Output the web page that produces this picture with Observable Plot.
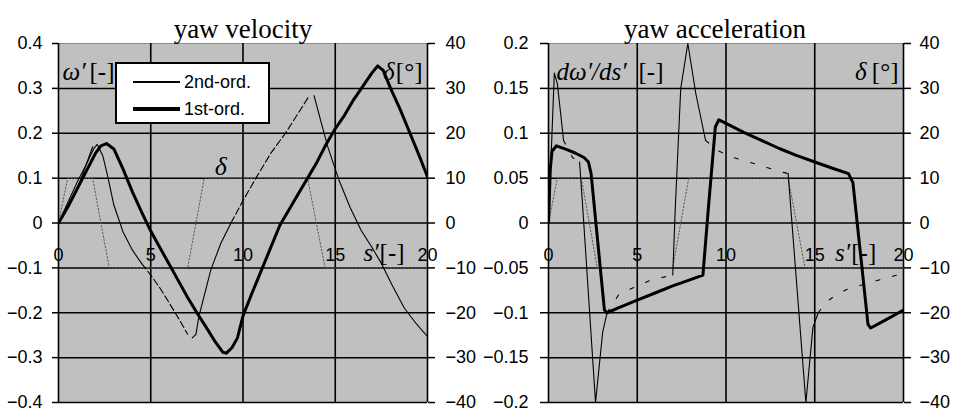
<!DOCTYPE html>
<html>
<head>
<meta charset="utf-8">
<script src="https://cdn.jsdelivr.net/npm/d3@7"></script>
<script src="https://cdn.jsdelivr.net/npm/@observablehq/plot@0.6"></script>
<style>
  body { margin: 0; background: #fff; }
  #wrap { position: relative; width: 955px; height: 417px; overflow: hidden; }
  .pnl { position: absolute; top: 0; }
  #legend { position: absolute; left: 115px; top: 62px; width: 155px; height: 62px; box-sizing: border-box;
            border: 2px solid #000; background: #fff; font-family: "Liberation Sans", Arial, sans-serif; font-size: 18px; }
  #legend .row { position: absolute; left: 16px; height: 20px; display: flex; align-items: center; }
  #legend .ln { width: 47px; background: #000; margin-right: 4px; }
</style>
</head>
<body>
<div id="wrap">
  <div id="p1" class="pnl" style="left:0"></div>
  <div id="p2" class="pnl" style="left:477px"></div>
  <div id="legend"></div>
</div>
<script>
// ---------- data ----------
const xTicks = [0, 5, 10, 15, 20];
const velTicks = [-0.4, -0.3, -0.2, -0.1, 0, 0.1, 0.2, 0.3, 0.4];
const accTicks = [-0.2, -0.15, -0.1, -0.05, 0, 0.05, 0.1, 0.15, 0.2];
const deltaTicks = [-40, -30, -20, -10, 0, 10, 20, 30, 40];
const legendLabels = ["2nd-ord.", "1st-ord."];

// rudder angle delta [deg] vs s'
const delta = [[0,0],[0.5,10],[1.85,10],[2.75,-10],[7.0,-10],[7.9,10],[13.5,10],[14.45,-10],[20,-10]];

// yaw velocity, 1st-order model
const vel1st = [[0,0],[0.5,0.035],[1,0.075],[1.5,0.115],[2,0.155],[2.3,0.172],[2.6,0.177],[3,0.165],[3.5,0.12],
  [4,0.07],[4.5,0.025],[5,-0.018],[5.5,-0.055],[6,-0.092],[6.5,-0.129],[7,-0.166],[7.5,-0.2],[8,-0.232],
  [8.5,-0.265],[8.9,-0.288],[9.1,-0.29],[9.4,-0.278],[9.7,-0.256],[10,-0.207],[10.5,-0.155],[11,-0.105],
  [11.5,-0.055],[12,-0.005],[12.5,0.03],[13,0.065],[13.5,0.1],[14,0.135],[14.5,0.175],[15,0.21],[15.5,0.24],
  [16,0.275],[16.5,0.305],[17,0.335],[17.3,0.35],[17.6,0.34],[18,0.3],[18.5,0.255],[19,0.205],[19.5,0.155],[20,0.103]];

// yaw velocity, 2nd-order model (pieces)
const vel2ndA = [[0,0],[0.6,0.045],[1.2,0.096],[1.85,0.17]];
const vel2ndB = [[0,0],[0.5,0.045],[1,0.09],[1.5,0.13],[1.9,0.165],[2.1,0.175],[2.4,0.15],[2.65,0.107],[3,0.04],
  [3.5,-0.02],[4,-0.06],[4.5,-0.09]];
const vel2ndC = [[4.5,-0.09],[5,-0.116],[5.5,-0.145],[6,-0.178],[6.5,-0.212],[7,-0.248]];
const vel2ndD = [[7.25,-0.256],[7.45,-0.248],[7.6,-0.21],[8.26,-0.104],[8.8,-0.045],[9.35,0]];
const vel2ndE = [[9.35,0],[10,0.05],[10.7,0.1],[11.5,0.155],[12.3,0.2],[13,0.245],[13.6,0.284]];
const vel2ndF = [[13.85,0.284],[14.2,0.23],[14.6,0.169],[15.2,0.096],[15.8,0.035],[16.4,-0.016],[17,-0.055],
  [17.5,-0.09],[18.1,-0.14],[18.75,-0.19],[19.4,-0.225],[20,-0.253]];

// yaw acceleration, 1st-order model
const acc1st = [[0,0],[0.1,0.06],[0.2,0.08],[0.45,0.086],[1,0.082],[1.5,0.078],[2,0.073],[2.25,0.068],[2.4,0.055],
  [3.15,-0.097],[3.3,-0.1],[4,-0.094],[5,-0.086],[6,-0.078],[7,-0.07],[8,-0.063],[8.7,-0.058],[9.0,0.015],
  [9.4,0.107],[9.6,0.115],[10,0.111],[11,0.101],[12,0.092],[13,0.083],[14,0.075],[15,0.068],[16,0.061],
  [16.9,0.055],[17.15,0.045],[18.0,-0.113],[18.15,-0.117],[19,-0.108],[20,-0.097]];

// yaw acceleration, 2nd-order model (steep pieces / slowly varying pieces)
const acc2ndS1 = [[0,0],[0.33,0.167],[0.5,0.155],[0.85,0.092]];
const acc2ndD1 = [[0.85,0.092],[1.35,0.073],[1.75,0.068]];
const acc2ndS2 = [[1.75,0.068],[1.9,0.026],[2.65,-0.2],[3.05,-0.122],[3.3,-0.1]];
const acc2ndD2 = [[3.3,-0.1],[3.95,-0.08],[4.9,-0.071],[5.85,-0.063],[7.0,-0.058]];
const acc2ndS3 = [[7.0,-0.058],[7.15,0.02],[7.45,0.15],[7.85,0.2],[8.3,0.144],[8.85,0.092]];
const acc2ndD3 = [[8.85,0.092],[9.5,0.081],[10.4,0.073],[11.8,0.065],[13.1,0.057],[13.5,0.055]];
const acc2ndS4 = [[13.5,0.055],[14.5,-0.2],[14.9,-0.116],[15.2,-0.1]];
const acc2ndD4 = [[15.2,-0.1],[15.6,-0.089],[16,-0.083],[16.8,-0.074],[18.7,-0.063],[19.65,-0.058],[20,-0.056]];

// ---------- drawing ----------
const SANS = "'Liberation Sans', Arial, sans-serif";
const SERIF = "'Liberation Serif', 'Times New Roman', serif";
const fmt = d => (d === 0 ? "0" : d < 0 ? "\u2212" + String(-d) : String(d));
const FS = 18, SFS = 25;

function panel(o) {
  const k = o.yTicks[o.yTicks.length - 1] / deltaTicks[deltaTicks.length - 1];
  const top = o.yTicks[o.yTicks.length - 1];
  const thin = (data, dash) => Plot.line(data, {stroke: "#000", strokeWidth: 1.1, strokeDasharray: dash, clip: true});
  const marks = [
    Plot.frame({fill: "#c0c0c0", stroke: "none"}),
    Plot.ruleY(o.yTicks.filter(d => d !== top), {stroke: "#000", strokeWidth: 1.5}),
    Plot.ruleY([top], {stroke: "#8c8c8c", strokeWidth: 1}),
    Plot.ruleX(xTicks, {stroke: "#000", strokeWidth: 1.6}),
    Plot.axisY({ticks: o.yTicks, anchor: "left", tickSize: o.tl, tickPadding: o.pl, tickFormat: fmt,
      fontSize: FS, strokeWidth: 1.5, label: null}),
    Plot.axisY({ticks: deltaTicks.map(d => d * k), anchor: "right", tickSize: 7, tickPadding: o.pr,
      tickFormat: d => fmt(Math.round(d / k)), fontSize: FS, strokeWidth: 1.5, label: null}),
    Plot.text(xTicks, {x: d => d, y: () => 0, dy: 32, text: d => String(d), fontSize: FS, fontFamily: SANS}),
    Plot.line(delta, {x: d => d[0], y: d => d[1] * k, stroke: "#5a5a5a", strokeWidth: 1, strokeDasharray: "1.5,2"}),
    ...o.thinSolid.map(d => thin(d)),
    ...o.thinDash.map(d => thin(d, o.dash)),
    Plot.line(o.thick, {stroke: "#000", strokeWidth: 3, strokeLinejoin: "round", clip: true}),
    Plot.text([o.title], {frameAnchor: "top", dx: o.titleDx, dy: -25, fontSize: 27, fontFamily: SERIF}),
    Plot.text([o.yName], {frameAnchor: "top-left", dx: o.yNameDx, dy: 19, textAnchor: "start", fontSize: SFS,
      fontFamily: SERIF, fontStyle: "italic"}),
    Plot.text(["[-]"], {frameAnchor: "top-left", dx: o.yUnitDx, dy: 19, textAnchor: "start", fontSize: SFS, fontFamily: SERIF}),
    Plot.text(["[°]"], {frameAnchor: "top-right", dx: -5, dy: 19, textAnchor: "end", fontSize: SFS, fontFamily: SERIF}),
    Plot.text(["δ"], {frameAnchor: "top-right", dx: o.dDx, dy: 19, textAnchor: "end", fontSize: SFS,
      fontFamily: SERIF, fontStyle: "italic"}),
    Plot.text(["s′"], {x: () => o.sX, y: () => 0, dy: 30, textAnchor: "end", fontSize: SFS, fontFamily: SERIF, fontStyle: "italic"}),
    Plot.text(["[-]"], {x: () => o.sX, y: () => 0, dy: 30, dx: 1, textAnchor: "start", fontSize: SFS, fontFamily: SERIF}),
    ...(o.extra || [])
  ];
  return Plot.plot({
    width: o.width, height: 417,
    marginLeft: o.ml, marginRight: o.mr, marginTop: 43, marginBottom: 15,
    x: {domain: [0, 20], axis: null},
    y: {domain: [o.yTicks[0], top], axis: null},
    style: {background: "transparent", fontFamily: SANS, fontSize: FS + "px", color: "#000"},
    marks
  });
}

document.getElementById("p1").append(panel({
  width: 477, ml: 58, mr: 50, tl: 6, pl: 10, pr: 11, titleDx: 0,
  yTicks: velTicks, title: "yaw velocity", yName: "ω′", yNameDx: 4, yUnitDx: 31, dDx: -33, sX: 17.35,
  thick: vel1st, thinSolid: [vel2ndA, vel2ndB, vel2ndD, vel2ndF], thinDash: [vel2ndC, vel2ndE], dash: "7,3",
  extra: [Plot.text(["δ"], {x: () => 8.8, y: () => 0.125, fontSize: 26, fontFamily: SERIF, fontStyle: "italic"})]
}));

document.getElementById("p2").append(panel({
  width: 478, ml: 71, mr: 52, tl: 8, pl: 12, pr: 9, titleDx: -11,
  yTicks: accTicks, title: "yaw acceleration", yName: "dω′/ds′", yNameDx: 8, yUnitDx: 90, dDx: -37, sX: 17.0,
  thick: acc1st, thinSolid: [acc2ndS1, acc2ndS2, acc2ndS3, acc2ndS4], thinDash: [acc2ndD1, acc2ndD2, acc2ndD3, acc2ndD4],
  dash: "4,13"
}));

// legend (left panel)
const lg = document.getElementById("legend");
legendLabels.forEach((t, i) => {
  const row = document.createElement("div");
  row.className = "row";
  row.style.top = (8 + i * 27) + "px";
  const ln = document.createElement("div");
  ln.className = "ln";
  ln.style.height = (i === 0 ? 1.2 : 3.2) + "px";
  const tx = document.createElement("span");
  tx.textContent = t;
  row.append(ln, tx);
  lg.append(row);
});
</script>
</body>
</html>
